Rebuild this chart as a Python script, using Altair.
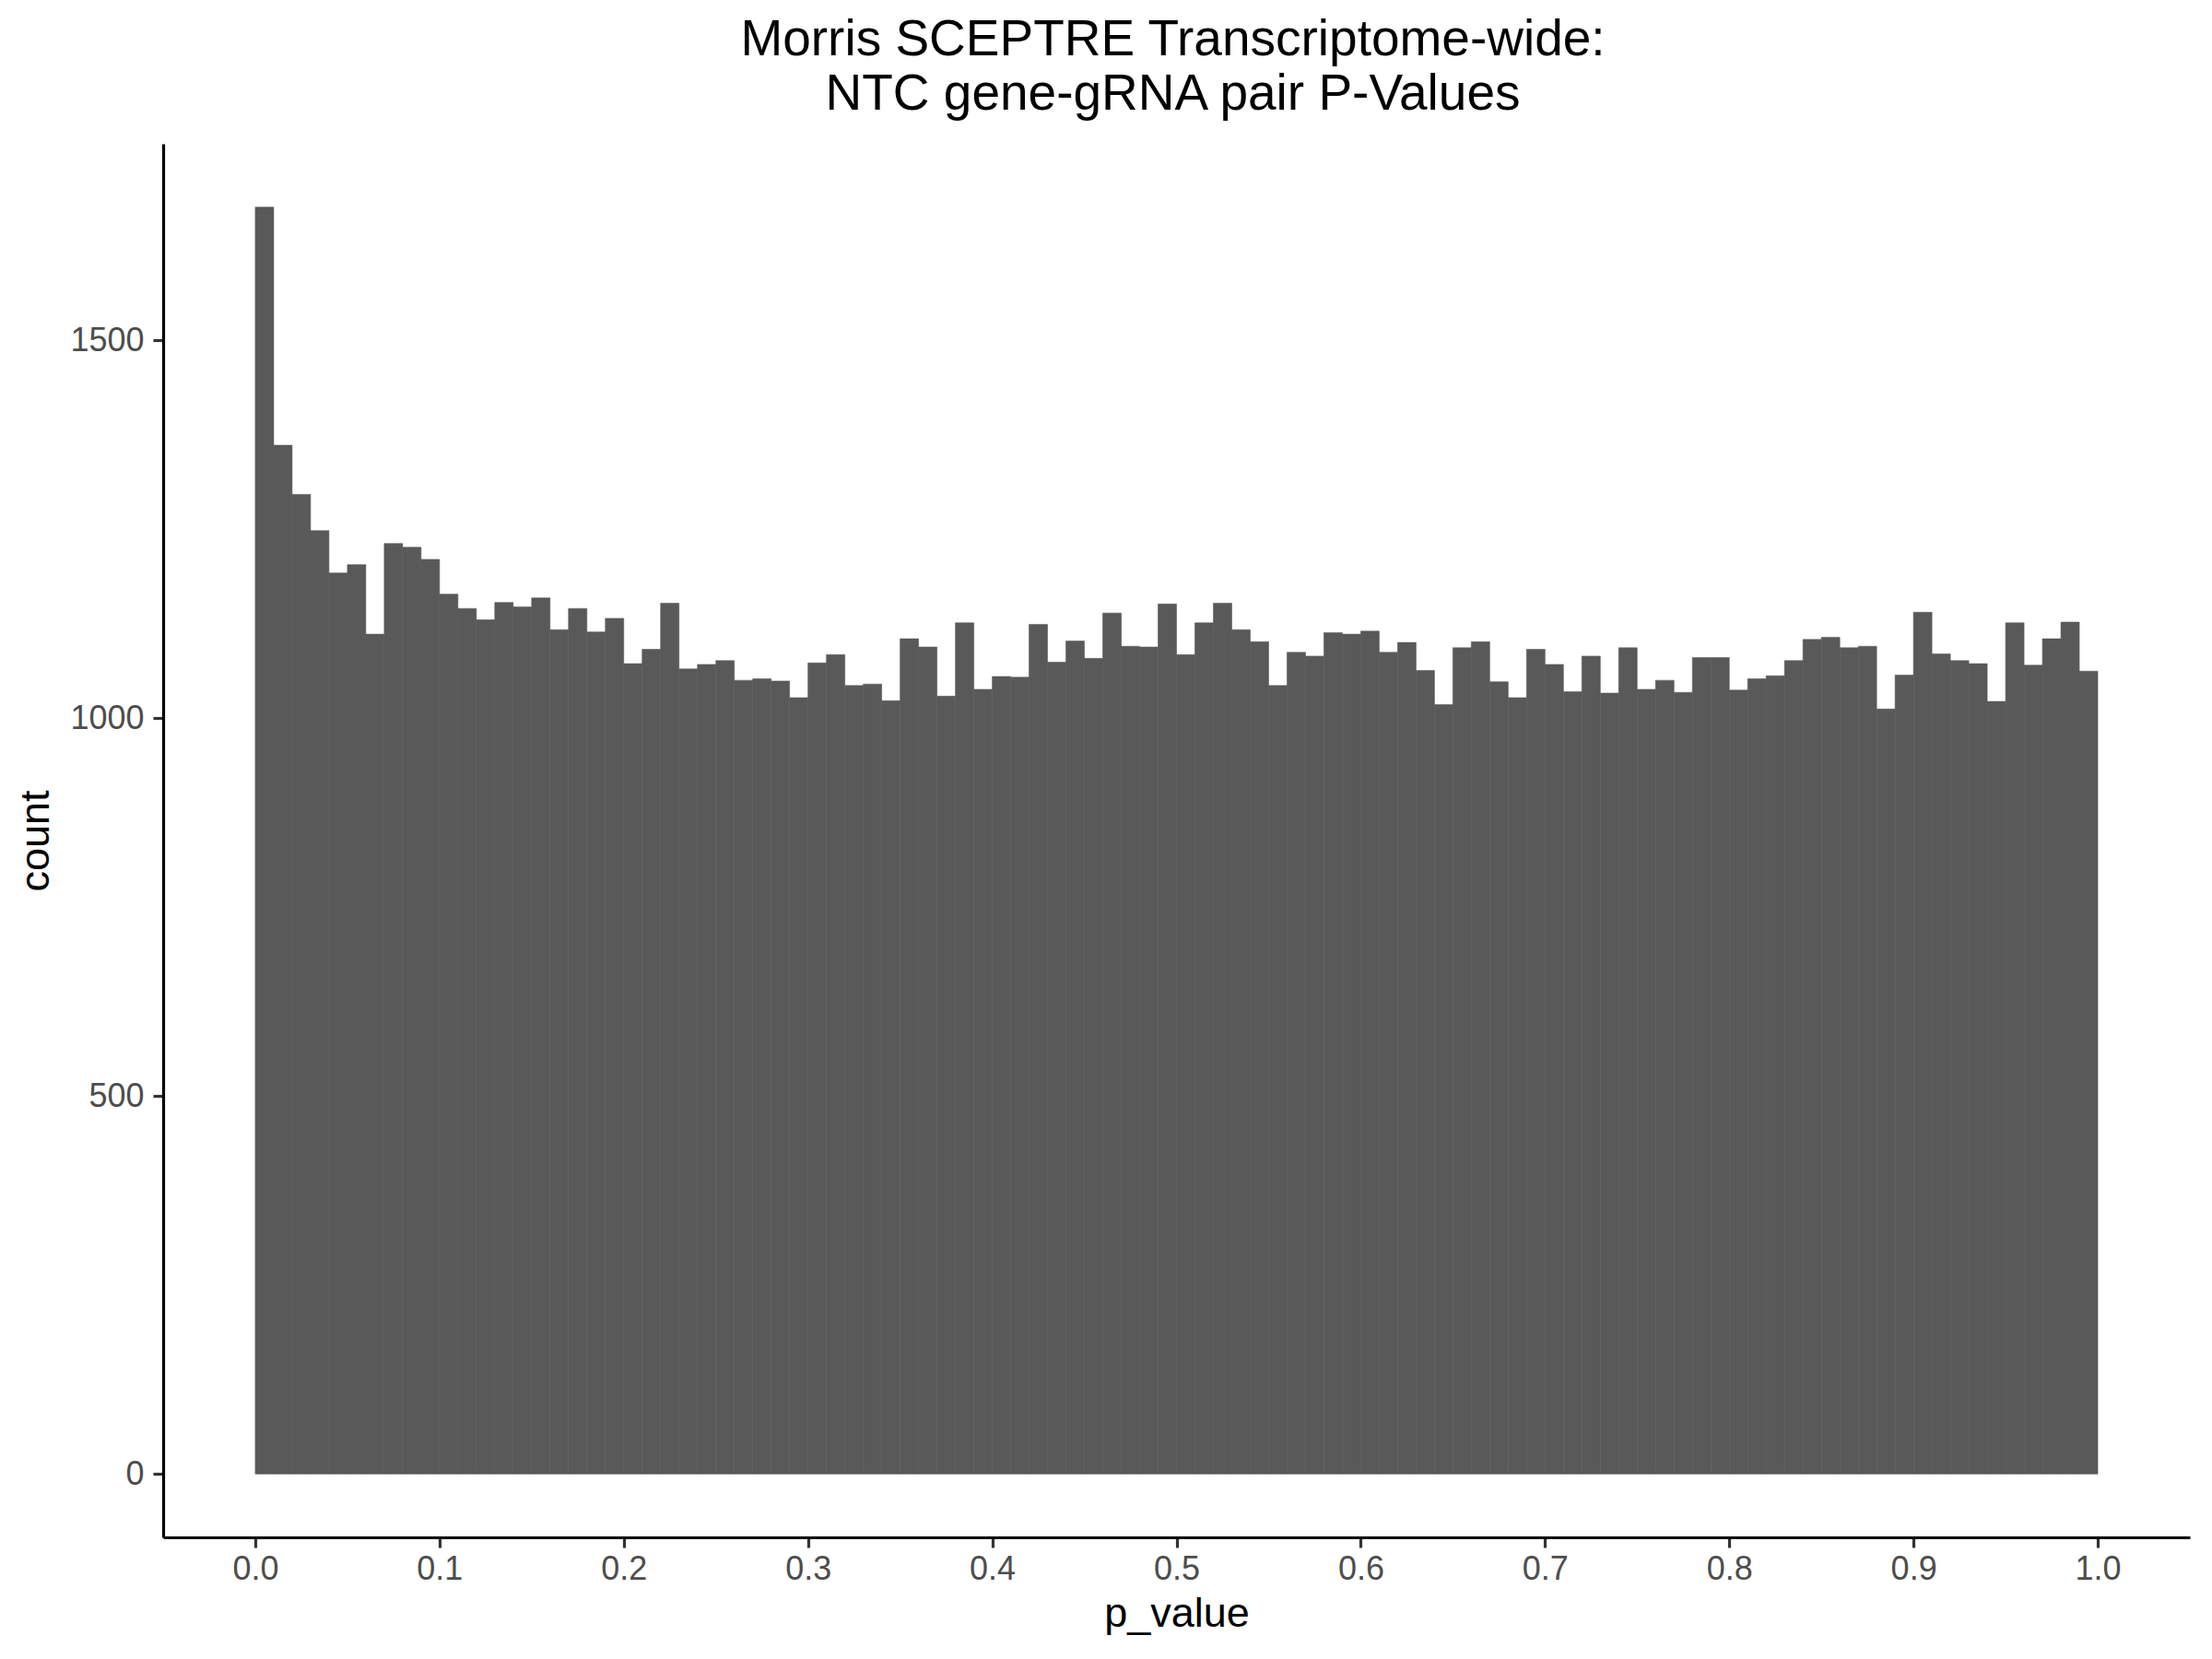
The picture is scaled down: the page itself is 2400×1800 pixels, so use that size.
import altair as alt
import pandas as pd

# Histogram of p-values: 100 bins of width 0.01 on [0, 1]
bin_index = list(range(100))
counts = [
    1676, 1361, 1296, 1248, 1192, 1203, 1111, 1231, 1226, 1210,
    1164, 1145, 1130, 1153, 1147, 1159, 1117, 1145, 1114, 1132,
    1072, 1091, 1152, 1065, 1071, 1076, 1050, 1052, 1049, 1027,
    1073, 1084, 1043, 1045, 1023, 1105, 1094, 1029, 1126, 1038,
    1055, 1054, 1124, 1074, 1102, 1079, 1139, 1095, 1094, 1151,
    1084, 1126, 1152, 1117, 1101, 1043, 1087, 1082, 1113, 1111,
    1115, 1087, 1100, 1063, 1018, 1093, 1101, 1048, 1027, 1091,
    1071, 1035, 1082, 1033, 1093, 1038, 1050, 1034, 1080, 1080,
    1037, 1052, 1056, 1076, 1104, 1107, 1093, 1095, 1012, 1057,
    1140, 1085, 1076, 1072, 1022, 1126, 1070, 1105, 1127, 1062,
]
bin_width = 0.01
x_ticks = [0.0, 0.1, 0.2, 0.3, 0.4, 0.5, 0.6, 0.7, 0.8, 0.9, 1.0]
y_ticks = [0, 500, 1000, 1500]
title_lines = ["Morris SCEPTRE Transcriptome-wide:", "\u00a0NTC gene-gRNA pair P-Values"]

df = pd.DataFrame({
    "bin_start": [i * bin_width for i in bin_index],
    "bin_end": [(i + 1) * bin_width for i in bin_index],
    "count": counts,
})

FONT = "Liberation Sans"
ymax = max(counts)
ydom = [-0.05 * ymax, 1.05 * ymax]

chart = alt.Chart(df).mark_bar(
    color="#595959", stroke="#595959", strokeWidth=0.6
).encode(
    x=alt.X("bin_start:Q",
            scale=alt.Scale(domain=[-0.05, 1.05], nice=False, zero=False),
            axis=alt.Axis(values=x_ticks, format=".1f", title="p_value")),
    x2="bin_end:Q",
    y=alt.Y("count:Q",
            scale=alt.Scale(domain=ydom, nice=False, zero=False),
            axis=alt.Axis(values=y_ticks, format="d", title="count")),
    y2=alt.datum(0),
).properties(
    width=2199,
    height=1512,
    title=alt.TitleParams(
        text=title_lines, fontSize=55, font=FONT, fontWeight="normal",
        color="black", anchor="middle", frame="group", offset=25, lineHeight=59,
        dx=-4,
    ),
    padding={"left": 169, "top": 148, "right": 10, "bottom": 128},
    autosize=alt.AutoSizeParams(type="none"),
).configure_view(
    stroke=None
).configure_axis(
    grid=False,
    domainColor="black", domainWidth=3.2,
    tickColor="#333333", tickWidth=3.2, tickSize=11,
    labelFont=FONT, labelFontSize=36, labelColor="#4d4d4d",
    titleFont=FONT, titleFontSize=45, titleColor="black", titleFontWeight="normal",
).configure_axisX(
    labelPadding=6, titlePadding=8,
).configure_axisY(
    labelPadding=10, titlePadding=14,
)

chart.save("out.html", embed_options={"renderer": "svg", "actions": False})
